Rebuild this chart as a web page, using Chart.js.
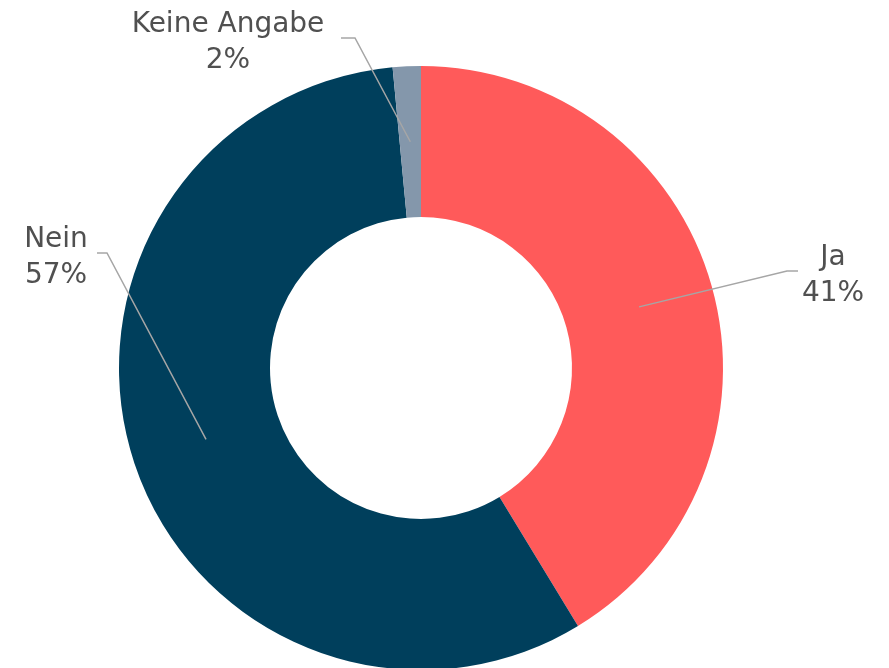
<!DOCTYPE html>
<html>
<head>
  <title>Doughnut Chart</title>
  <script src="https://cdn.jsdelivr.net/npm/chart.js@4.4.0/dist/chart.umd.min.js"></script>
  <style>
    html, body { margin: 0; padding: 0; overflow: hidden; background: #fff; }
    #wrap { width: 889px; height: 680px; }
  </style>
</head>
<body>
  <div id="wrap"><canvas id="chart"></canvas></div>

  <script>
    // Data
    const categories = ['Ja', 'Nein', 'Keine Angabe'];
    const shares = [41.3, 57.2, 1.5];
    const sliceColors = ['#FF5A5A', '#003F5C', '#8497AB'];

    // Where each label sits and how its leader line bends (text centre, knee, line end)
    const labelLayout = [
      { tx: 833, ty: 265, kx: 787, ky: 271, ex: 798 },
      { tx: 56,  ty: 247, kx: 107, ky: 253, ex: 97 },
      { tx: 228, ty: 32,  kx: 355, ky: 38,  ex: 341 }
    ];

    // Draws leader lines plus "name / percent" labels
    const leaderLabels = {
      id: 'leaderLabels',
      afterDraw(chart) {
        const ctx = chart.ctx;
        const meta = chart.getDatasetMeta(0);
        ctx.save();
        meta.data.forEach((arc, i) => {
          const p = arc.tooltipPosition();
          const l = labelLayout[i];
          ctx.strokeStyle = '#A6A6A6';
          ctx.lineWidth = 1.5;
          ctx.beginPath();
          ctx.moveTo(p.x, p.y);
          ctx.lineTo(l.kx, l.ky);
          ctx.lineTo(l.ex, l.ky);
          ctx.stroke();

          ctx.fillStyle = '#505050';
          ctx.font = '28px "DejaVu Sans"';
          ctx.textAlign = 'center';
          ctx.textBaseline = 'alphabetic';
          ctx.fillText(categories[i], l.tx, l.ty);
          ctx.fillText(Math.round(shares[i]) + '%', l.tx, l.ty + 36);
        });
        ctx.restore();
      }
    };

    new Chart(document.getElementById('chart'), {
      type: 'doughnut',
      data: {
        labels: categories,
        datasets: [{
          data: shares,
          backgroundColor: sliceColors,
          borderWidth: 0
        }]
      },
      options: {
        responsive: true,
        maintainAspectRatio: false,
        animation: false,
        cutout: '50%',
        layout: {
          padding: { left: 119, right: 166, top: 66, bottom: 10 }
        },
        plugins: {
          legend: { display: false },
          tooltip: { enabled: false }
        }
      },
      plugins: [leaderLabels]
    });
  </script>
</body>
</html>
